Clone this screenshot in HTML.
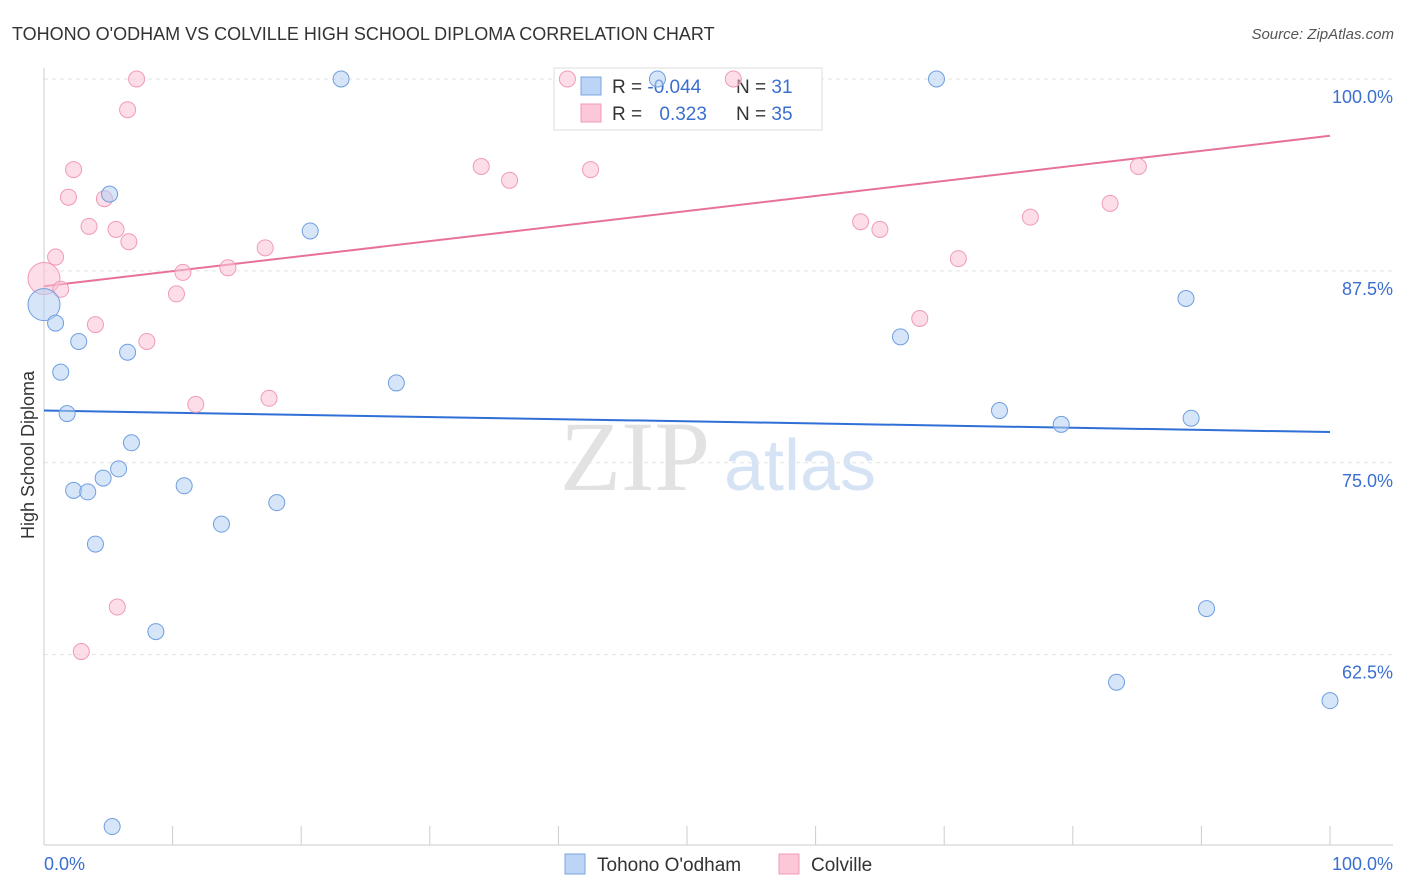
<!DOCTYPE html>
<html><head><meta charset="utf-8"><style>
body{margin:0;background:#fff;font-family:"Liberation Sans",sans-serif;}
svg{display:block}
</style></head><body>
<svg id="chart" width="1406" height="892" xmlns="http://www.w3.org/2000/svg">
<text x="12" y="40" font-size="18" fill="#333">TOHONO O'ODHAM VS COLVILLE HIGH SCHOOL DIPLOMA CORRELATION CHART</text>
<text x="1394" y="39" font-size="15" fill="#555" font-style="italic" text-anchor="end">Source: ZipAtlas.com</text>
<text transform="translate(34,455) rotate(-90)" font-size="18" fill="#333" text-anchor="middle">High School Diploma</text>
<g>
<text x="635" y="490" font-size="100" font-family="Liberation Serif,serif" fill="#e2e2e2" text-anchor="middle">ZIP</text>
<text x="800" y="490" font-size="72" fill="#d6e3f5" text-anchor="middle">atlas</text>
</g>
<g id="grid"></g><g id="axes"></g><g id="trends"></g>
<g>
<rect x="554" y="68" width="268" height="62" fill="#fff" stroke="#ddd"/>
<rect x="581" y="77" width="20" height="18" fill="#bcd4f5" stroke="#7aa6e0"/>
<rect x="581" y="104" width="20" height="18" fill="#fcc8d8" stroke="#f09ab8"/>
<text x="612" y="93" font-size="19" fill="#333">R = <tspan fill="#3a6fd0">-0.044</tspan></text>
<text x="736" y="93" font-size="19" fill="#333">N = <tspan fill="#3a6fd0"> 31</tspan></text>
<text x="612" y="120" font-size="19" fill="#333">R = <tspan fill="#3a6fd0" dx="12">0.323</tspan></text>
<text x="736" y="120" font-size="19" fill="#333">N = <tspan fill="#3a6fd0">35</tspan></text>
</g>
<g id="pts"></g>
<g>
<rect x="565" y="854" width="20" height="20" fill="#bcd4f5" stroke="#7aa6e0"/>
<text x="597" y="871" font-size="19" fill="#333">Tohono O'odham</text>
<rect x="779" y="854" width="20" height="20" fill="#fcc8d8" stroke="#f09ab8"/>
<text x="811" y="871" font-size="19" fill="#333">Colville</text>
</g>
</svg>
<script>
const yTicks=[100,87.5,75,62.5];
const yTickLabels=["100.0%","87.5%","75.0%","62.5%"];
const xTickLabels=["0.0%","100.0%"];
const blueX=[23.1,47.7,69.4,5.1,20.7,0,0.9,2.7,6.5,1.3,27.4,1.8,6.8,5.8,4.6,2.3,3.4,10.9,18.1,13.8,4.0,8.7,5.3,66.6,88.8,74.3,79.1,89.2,90.4,83.4,100];
const blueY=[100,100,100,92.5,90.1,85.3,84.1,82.9,82.2,80.9,80.2,78.2,76.3,74.6,74.0,73.2,73.1,73.5,72.4,71.0,69.7,64.0,51.3,83.2,85.7,78.4,77.5,77.9,65.5,60.7,59.5];
const pinkX=[7.2,40.7,53.6,6.5,2.3,1.9,4.7,3.5,5.6,6.6,0.9,0,1.3,10.8,14.3,17.2,10.3,4.0,8.0,11.8,17.5,5.7,2.9,34.0,36.2,42.5,63.5,65.0,71.1,68.1,76.7,82.9,85.1];
const pinkY=[100,100,100,98.0,94.1,92.3,92.2,90.4,90.2,89.4,88.4,87.0,86.3,87.4,87.7,89.0,86.0,84.0,82.9,78.8,79.2,65.6,62.7,94.3,93.4,94.1,90.7,90.2,88.3,84.4,91.0,91.9,94.3];
const blueTrend=[78.4,77.0];
const pinkTrend=[86.5,96.3];
const NS="http://www.w3.org/2000/svg";
const sx=v=>44+v*12.86, sy=v=>79+(100-v)*15.35;
function mk(t,a,p){const e=document.createElementNS(NS,t);for(const k in a)e.setAttribute(k,a[k]);p.appendChild(e);return e;}
const grid=document.getElementById('grid'),axes=document.getElementById('axes');
yTicks.forEach((v,i)=>{
 const l=mk('line',{x1:44,x2:1393,y1:sy(v),y2:sy(v),stroke:'#e3e3e3','stroke-dasharray':'4,4'},grid);
 
 
 const t=mk('text',{x:1393,y:sy(v)+24,'font-size':18,fill:'#3a6fd0','text-anchor':'end'},grid);
 t.textContent=yTickLabels[i];
 
 
});
const ax=mk('line',{x1:44,x2:1393,y1:845,y2:845,stroke:'#ccc'},axes);


const ay=mk('line',{x1:44,x2:44,y1:68,y2:845,stroke:'#ccc'},axes);


for(let i=0;i<=10;i++){const t=mk('line',{x1:sx(i*10),x2:sx(i*10),y1:826,y2:845,stroke:'#ccc'},axes);
 
 }
[[0,'start',44],[1,'end',1393]].forEach(([i,a,x])=>{const t=mk('text',{x:x,y:870,'font-size':18,fill:'#3a6fd0','text-anchor':a},axes);t.textContent=xTickLabels[i];
 
 });
const tr=document.getElementById('trends');
const bl=mk('line',{x1:sx(0),x2:sx(100),y1:sy(blueTrend[0]),y2:sy(blueTrend[1]),stroke:'#2f6fd6','stroke-width':2},tr);


const pl=mk('line',{x1:sx(0),x2:sx(100),y1:sy(pinkTrend[0]),y2:sy(pinkTrend[1]),stroke:'#e8719a','stroke-width':2},tr);


const pts=document.getElementById('pts');
function draw(X,Y,fill,stroke,name){X.forEach((x,i)=>{const r=(x===0)?16:8;
 const c=mk('circle',{cx:sx(x),cy:sy(Y[i]),r:r,fill:fill,'fill-opacity':0.55,stroke:stroke,'stroke-width':1},pts);
 
 });}
draw(pinkX,pinkY,'#fbc3d5','#f09ab8','point-colville');
draw(blueX,blueY,'#b5cff3','#6f9fe0','point-tohono');
</script>
</body></html>
